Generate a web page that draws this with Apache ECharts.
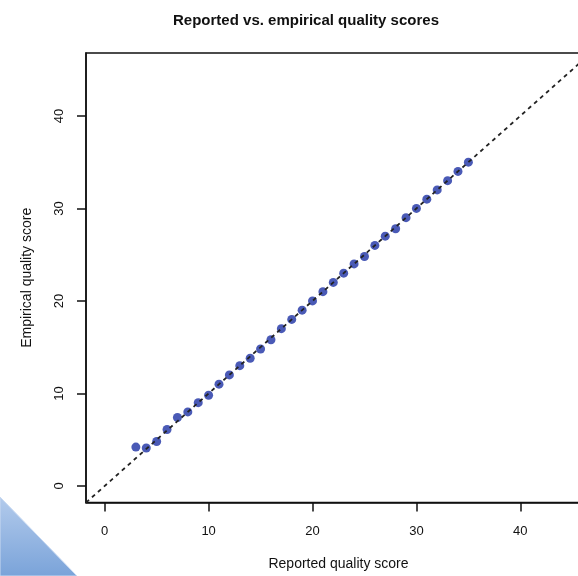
<!DOCTYPE html>
<html>
<head>
<meta charset="utf-8">
<script src="https://cdn.jsdelivr.net/npm/echarts@6/dist/echarts.min.js"></script>
<style>
  html, body { margin: 0; padding: 0; background: #fff; }
  #main { width: 578px; height: 576px; }
</style>
</head>
<body>
<div id="main"></div>
<script>
// reported quality score (x) and empirical quality score (y)
const reported = [3, 4, 5, 6, 7, 8, 9, 10, 11, 12, 13, 14, 15, 16, 17, 18, 19,
  20, 21, 22, 23, 24, 25, 26, 27, 28, 29, 30, 31, 32, 33, 34, 35];
const empirical = [4.2, 4.1, 4.8, 6.1, 7.4, 8.0, 9.0, 9.8, 11.0, 12.0, 13.0, 13.8, 14.8, 15.8, 17.0, 18.0, 19.0,
  20.0, 21.0, 22.0, 23.0, 24.0, 24.8, 26.0, 27.0, 27.8, 29.0, 30.0, 31.0, 32.0, 33.0, 34.0, 35.0];
// y = x reference line
const refLine = [[-1.8, -1.8], [46.8, 46.8]];
const ticks = [0, 10, 20, 30, 40];

const font = '"Liberation Sans", Arial, Helvetica, sans-serif';
let chart = echarts.init(document.getElementById('main'));

let points = reported.map(function (x, i) {
  return [x, empirical[i]];
});

let option = {
  animation: false,
  title: {
    text: 'Reported vs. empirical quality scores',
    left: 301,
    top: 8,
    textAlign: 'center',
    textStyle: { fontFamily: font, fontSize: 15, fontWeight: 'bold', color: '#111' }
  },
  grid: {
    left: 86, top: 53, width: 505, height: 449.6,
    containLabel: false,
    outerBoundsMode: 'none',
    show: true, borderColor: '#111', borderWidth: 1.5, backgroundColor: 'transparent'
  },
  xAxis: {
    type: 'value',
    min: -1.8, max: 46.8,
    name: 'Reported quality score',
    nameLocation: 'middle',
    nameGap: 55,
    nameTextStyle: { fontFamily: font, fontSize: 14, color: '#111' },
    axisLine: { show: true, onZero: false, lineStyle: { color: '#111', width: 1.5 } },
    axisTick: { show: true, length: 9, customValues: ticks, lineStyle: { color: '#111', width: 1.5 } },
    axisLabel: { customValues: ticks, margin: 22, fontFamily: font, fontSize: 13, color: '#111' },
    splitLine: { show: false }
  },
  yAxis: {
    type: 'value',
    min: -1.8, max: 46.8,
    name: 'Empirical quality score',
    nameLocation: 'middle',
    nameGap: 52,
    nameTextStyle: { fontFamily: font, fontSize: 14, color: '#111' },
    axisLine: { show: true, onZero: false, lineStyle: { color: '#111', width: 1.5 } },
    axisTick: { show: true, length: 9, customValues: ticks, lineStyle: { color: '#111', width: 1.5 } },
    axisLabel: { customValues: ticks, rotate: 90, margin: 20, fontFamily: font, fontSize: 13, color: '#111' },
    splitLine: { show: false }
  },
  graphic: [{
    type: 'polygon',
    z: 100,
    shape: { points: [[0, 497], [77, 576], [0, 576]] },
    style: {
      fill: new echarts.graphic.LinearGradient(0, 0, 0, 1, [
        { offset: 0, color: '#b3cbec' },
        { offset: 1, color: '#7aa3d9' }
      ]),
      stroke: '#c9daf2',
      lineWidth: 1
    }
  }],
  series: [{
    type: 'scatter',
    data: points,
    symbolSize: 9,
    itemStyle: { color: '#4a5ab6', opacity: 1 },
    z: 2
  }, {
    type: 'line',
    data: refLine,
    symbol: 'none',
    lineStyle: { color: '#222', width: 1.8, type: [4, 4] },
    z: 3
  }]
};

chart.setOption(option);
</script>
</body>
</html>
